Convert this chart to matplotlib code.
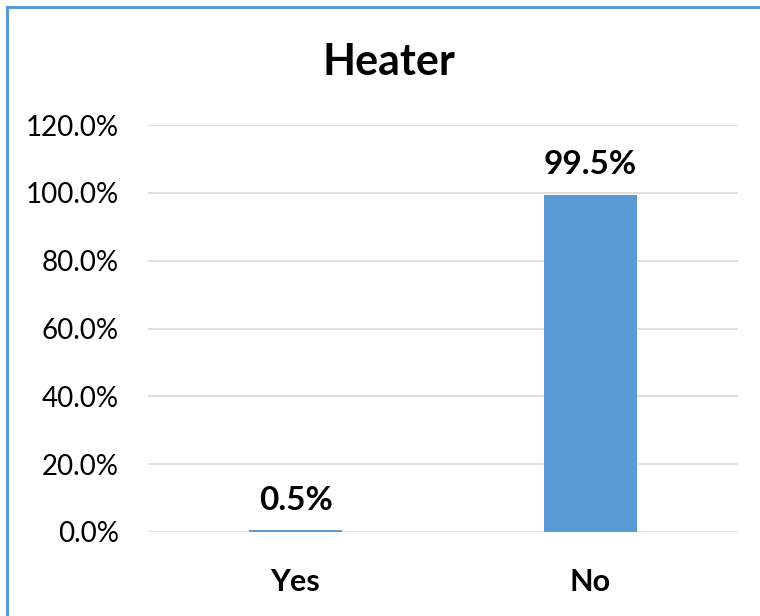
import matplotlib.pyplot as plt
from matplotlib.lines import Line2D

# data
categories = ["Yes", "No"]
values = [0.5, 99.5]
yticks = [0, 20, 40, 60, 80, 100, 120]
title = "Heater"

bar_color = "#5B9BD5"
plt.rcParams['font.family'] = ['Lato', 'DejaVu Sans']

fig = plt.figure(figsize=(7.6, 6.16), dpi=100)
ax = fig.add_axes([148/760, 1 - 532/616, 590/760, 407/616])

x = range(len(categories))
ax.bar(x, values, width=0.312, color=bar_color)
ax.set_xlim(-0.5, 1.5)
ax.set_ylim(0, 120)
ax.set_yticks(yticks)
ax.set_yticklabels([f"{v:.1f}%" for v in yticks], fontsize=20)
ax.set_xticks(list(x))
ax.set_xticklabels(categories, fontsize=22, fontweight='bold')
ax.tick_params(axis='both', length=0)
ax.tick_params(axis='y', pad=21)
ax.tick_params(axis='x', pad=26)
ax.grid(axis='y', color='#D9D9D9', linewidth=1.2)
ax.set_axisbelow(True)
for s in ax.spines.values():
    s.set_visible(False)

for i, v in enumerate(values):
    ax.annotate(f"{v}%", (i, v), xytext=(0, 11), textcoords='offset points',
                ha='center', va='bottom', fontsize=24, fontweight='bold')

fig.text(389/760, 1 - 62/616, title, ha='center', va='center',
         fontsize=31, fontweight='bold')

# outer frame, only top and left edges visible
fig.add_artist(Line2D([6.5/760, 6.5/760], [0, 1 - 6.5/616], transform=fig.transFigure,
                      color=bar_color, linewidth=2.2))
fig.add_artist(Line2D([6.5/760, 1], [1 - 6.5/616, 1 - 6.5/616], transform=fig.transFigure,
                      color=bar_color, linewidth=2.2))

fig.savefig("out.png", dpi=100)
